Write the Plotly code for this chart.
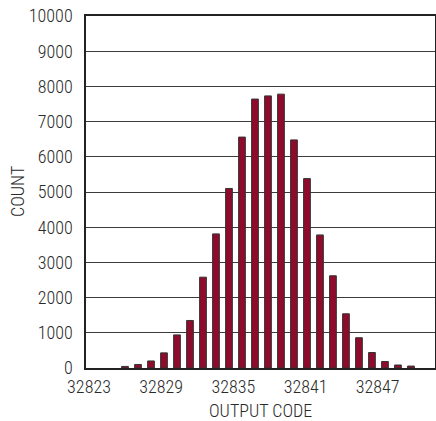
import plotly.graph_objects as go

# Output codes of the histogram bars
codes = list(range(32826, 32849))
# Counts per code
counts = [45, 100, 200, 430, 940, 1350, 2580, 3810, 5100, 6560, 7640, 7730,
          7780, 6480, 5380, 3780, 2620, 1540, 860, 440, 185, 85, 55]

# Tick labels shown under / beside the axes
x_tick_vals = [32823, 32829, 32835, 32841, 32847]
x_tick_text = [str(v) for v in x_tick_vals]
y_tick_vals = list(range(0, 10001, 1000))
y_tick_text = [str(v) for v in y_tick_vals]

FONT = "Roboto Condensed, Liberation Sans Narrow, Arial Narrow, sans-serif"
TXT = "#2a2a2a"
BAR_FILL = "#8e0b2b"
BAR_EDGE = "#333333"
GRID = "#3c3c3c"
AXIS = "#222222"

fig = go.Figure()
fig.add_trace(go.Bar(
    x=codes, y=counts, width=0.52,
    marker=dict(color=BAR_FILL, line=dict(color=BAR_EDGE, width=1)),
    xaxis="x", yaxis="y", showlegend=False, hoverinfo="x+y",
))
# invisible helper trace so the label axis is drawn
fig.add_trace(go.Scatter(
    x=[x_tick_vals[0], x_tick_vals[-1]], y=[0, 0], mode="markers",
    marker=dict(opacity=0), xaxis="x2", yaxis="y", showlegend=False,
    hoverinfo="skip",
))

tf = dict(family=FONT, size=18, color=TXT, weight=300)

fig.update_layout(
    width=436, height=421,
    margin=dict(l=86, r=1, t=16, b=53),
    paper_bgcolor="white", plot_bgcolor="white",
    font=tf,
    xaxis=dict(
        range=[32823, 32849.85], showticklabels=False, ticks="",
        showgrid=False, zeroline=False, automargin=False,
        showline=True, linecolor=AXIS, linewidth=1.5, mirror=True,
    ),
    xaxis2=dict(
        overlaying="x", side="bottom", anchor="y",
        range=[32822.75, 32851.76], automargin=False,
        tickmode="array", tickvals=x_tick_vals, ticktext=x_tick_text,
        ticks="", showgrid=False, zeroline=False, showline=False,
        ticklabelstandoff=6,
        tickfont=tf,
    ),
    yaxis=dict(
        range=[0, 10000], tickmode="array", tickvals=y_tick_vals,
        ticktext=y_tick_text, automargin=False,
        ticks="", showgrid=True, gridcolor=GRID, gridwidth=1,
        zeroline=False, showline=True, linecolor=AXIS, linewidth=1.5,
        mirror=True, ticklabelstandoff=8,
        tickfont=tf,
    ),
    annotations=[
        dict(text="COUNT", xref="paper", yref="paper",
             x=(17 - 86) / 349, y=0.5, textangle=-90, showarrow=False,
             xanchor="center", yanchor="middle", font=tf),
        dict(text="OUTPUT CODE", xref="paper", yref="paper",
             x=0.5, y=(368 - 410) / 352, showarrow=False,
             xanchor="center", yanchor="middle", font=tf),
    ],
)

fig.write_html(
    "out.html",
    config={"displayModeBar": False},
    post_script="document.body.style.margin='0';document.body.style.padding='0';",
)
